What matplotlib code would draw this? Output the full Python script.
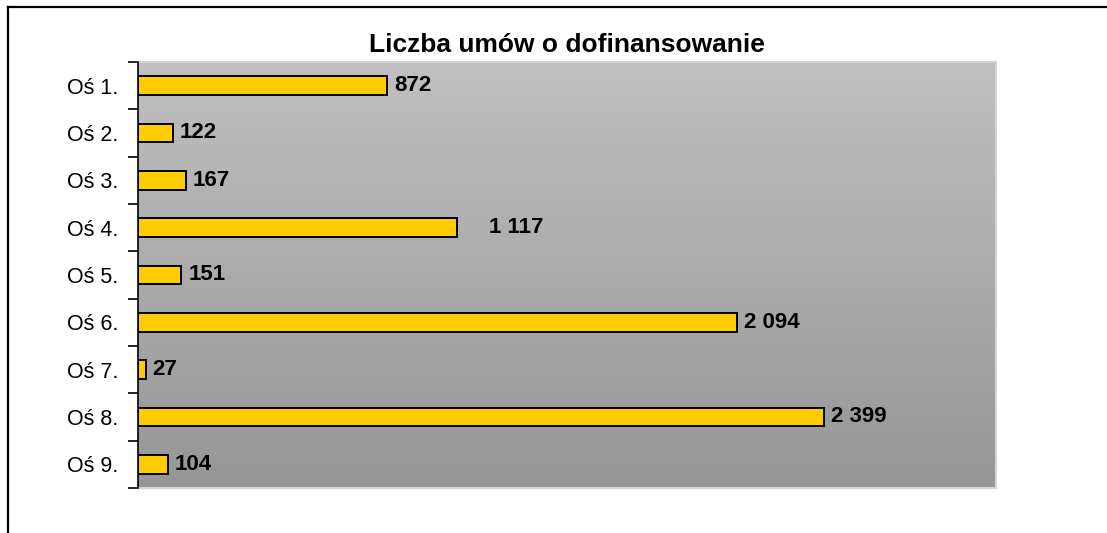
import matplotlib
matplotlib.use('Agg')
import matplotlib.pyplot as plt
from matplotlib.lines import Line2D
import numpy as np

plt.rcParams['font.family'] = ['Liberation Sans', 'DejaVu Sans']

# Data
categories = ['Oś 1.', 'Oś 2.', 'Oś 3.', 'Oś 4.', 'Oś 5.', 'Oś 6.', 'Oś 7.', 'Oś 8.', 'Oś 9.']
values = [872, 122, 167, 1117, 151, 2094, 27, 2399, 104]
title = 'Liczba umów o dofinansowanie'

# extra label shift (points) - the 1 117 label sits further out in the original
label_shift = {3: 18}

fig = plt.figure(figsize=(11.07, 5.33), dpi=100)
ax = fig.add_axes([138 / 1107, 1 - 488 / 533, (996 - 138) / 1107, (488 - 62) / 533])

# gradient background of the plot area
grad = np.linspace(0, 1, 256).reshape(-1, 1)
ax.imshow(grad, extent=(0, 1, 0, 1), transform=ax.transAxes, aspect='auto',
          cmap=matplotlib.colors.LinearSegmentedColormap.from_list('g', ['#c0c0c0', '#969696']),
          zorder=0)

y = np.arange(len(categories))
ax.barh(y, values, height=0.4, color='#ffcc00', edgecolor='black', linewidth=1.4, zorder=2)

for i, v in enumerate(values):
    txt = f'{v:,}'.replace(',', ' ')
    ax.annotate(txt, xy=(v, i), xytext=(5 + label_shift.get(i, 0), 0),
                textcoords='offset points', ha='left', va='center',
                fontsize=16, fontweight='bold', color='black', zorder=3)

ax.set_xlim(0, 3000)
ax.set_ylim(len(categories) - 0.5, -0.5)
ax.set_xticks([])

# boundary ticks (major), category labels (minor)
ax.set_yticks(np.arange(len(categories) + 1) - 0.5)
ax.set_yticklabels([])
ax.set_yticks(y, minor=True)
ax.set_yticklabels(categories, minor=True, fontsize=15.5)
ax.tick_params(axis='y', which='major', direction='out', length=7, width=1.2)
ax.tick_params(axis='y', which='minor', length=0, pad=14)

for s in ['top', 'right', 'bottom']:
    ax.spines[s].set_color('#d4d4d4')
    ax.spines[s].set_linewidth(1.5)
ax.spines['left'].set_color('black')
ax.spines['left'].set_linewidth(1.2)
ax.spines['left'].set_zorder(4)

fig.text((138 + 996) / 2 / 1107, 1 - 45 / 533, title, ha='center', va='center',
         fontsize=19, fontweight='bold')

# outer frame (left and top edges visible)
fig.add_artist(Line2D([8 / 1107, 8 / 1107], [0, 1 - 7 / 533], color='black', lw=1.6,
                      transform=fig.transFigure))
fig.add_artist(Line2D([8 / 1107, 1], [1 - 7 / 533, 1 - 7 / 533], color='black', lw=1.6,
                      transform=fig.transFigure))

fig.savefig('out.png', dpi=100)
